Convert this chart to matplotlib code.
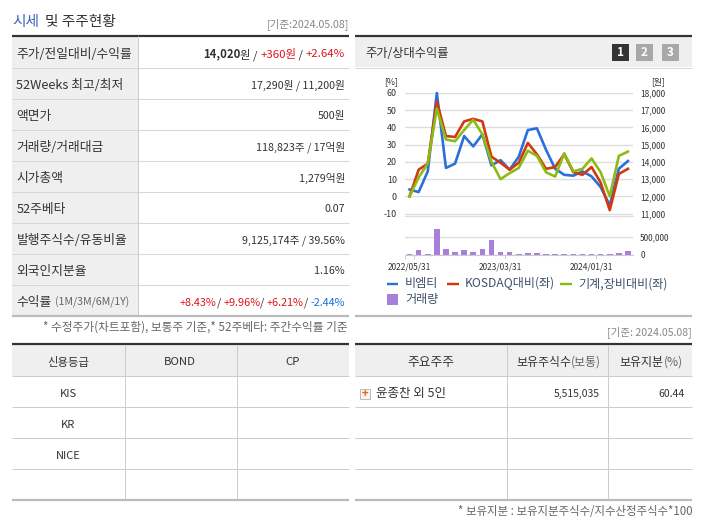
import numpy as np
from matplotlib import pyplot as plt
from matplotlib.patches import Rectangle

plt.rcParams['font.family'] = ['Noto Sans CJK KR', 'DejaVu Sans']
plt.rcParams['axes.unicode_minus'] = False

W, H = 702, 525

# chart data
months = ['2022/05/31', '2023/03/31', '2024/01/31']
month_pos = [0, 10, 20]
bmt = [4, 2.5, 14.5, 60, 16.5, 19, 35, 29, 36, 18, 21, 15.5, 23, 38.5,
       39.5, 27, 16, 12.5, 12, 14.5, 11.6, 5.4, -5.2, 16, 20.5]
kosdaq = [0, 15.5, 19, 55, 35, 34.5, 43.5, 45, 43.5, 23, 19.5, 15.5, 19.5, 31,
          24.4, 16, 17, 24.5, 14, 12.5, 17, 8, -8, 13, 16]
machine = [0, 11, 19, 51, 33, 32, 38.5, 44.5, 36, 20, 10, 13.5, 16.5, 26.5,
           23.5, 14, 11.5, 25, 14.5, 16, 22, 14, 0, 23.5, 26]
volume = [20000, 136000, 25000, 710000, 165000, 80000, 135000, 80000, 160000,
          410000, 80000, 75000, 30000, 45000, 55000, 25000, 25000, 25000,
          25000, 25000, 15000, 15000, 25000, 50000, 120000]
pct_ticks = [-10, 0, 10, 20, 30, 40, 50, 60]
won_ticks = [11000, 12000, 13000, 14000, 15000, 16000, 17000, 18000]
vol_ticks = [0, 500000]

# table data
info_labels = ['주가/전일대비/수익률', '52Weeks 최고/최저', '액면가', '거래량/거래대금', '시가총액',
               '52주베타', '발행주식수/유동비율', '외국인지분율', '수익률']
info_values = ['', '17,290원 / 11,200원', '500원', '118,823주 / 17억원', '1,279억원',
               '0.07', '9,125,174주 / 39.56%', '1.16%', '']
rating_head = ['신용등급', 'BOND', 'CP']
rating_rows = ['KIS', 'KR', 'NICE']
holder_head = ['주요주주', '보유주식수', '보유지분']
holder_name = '윤종찬 외 5인'
holder_shares = '5,515,035'
holder_ratio = '60.44'

BLUE = '#2a6fdb'
RED = '#d2390f'
GREEN = '#8dbb12'
PURPLE = '#a97fdc'
TXT = '#333333'
LINE = '#cccccc'
FILL = '#efefef'
TEXT_SHIFT = 1.3


def make_axes(fig, left, top, right, bottom):
    return fig.add_axes([left / W, 1 - bottom / H, (right - left) / W, (bottom - top) / H])


def hline(ax, y, x0, x1, color=LINE, lw=1.0):
    ax.plot([x0, x1], [y, y], color=color, lw=lw * 0.72, solid_capstyle='butt')


def vline(ax, x, y0, y1, color=LINE, lw=1.0):
    ax.plot([x, x], [y0, y1], color=color, lw=lw * 0.72, solid_capstyle='butt')


def put(ax, x, y, s, size, color=TXT, ha='left', weight='normal'):
    # the CJK font sits a bit high with va=center
    return ax.text(x, y + TEXT_SHIFT, s, fontsize=size, color=color, ha=ha, va='center', fontweight=weight)


def right_text(ax, fig, x, y, parts, size=7.7):
    # draws the pieces right to left so several colours can share a line
    renderer = fig.canvas.get_renderer()
    for s, color, weight in reversed(parts):
        t = put(ax, x, y, s, size, color, 'right', weight)
        x -= t.get_window_extent(renderer).width


fig = plt.figure(figsize=(W / 100, H / 100), dpi=100)
bg = fig.add_axes([0, 0, 1, 1])
bg.set_xlim(0, W)
bg.set_ylim(H, 0)
bg.axis('off')

# title
put(bg, 12, 21, '시세', 10.6, '#3c62b4', weight='medium')
put(bg, 45, 21, '및 주주현황', 10.6, TXT, weight='medium')
put(bg, 349, 23, '[기준:2024.05.08]', 7.6, '#888888', 'right')

# left top table
seps = [67.5, 98.5, 129.5, 160.5, 191.5, 222.5, 253.5, 284.5]
bg.add_patch(Rectangle((12, 36), 125.5, 279, color=FILL, lw=0))
hline(bg, 35.5, 12, 349, '#333333', 2.2)
for y in seps:
    hline(bg, y, 12, 349, '#d6d6d6')
vline(bg, 137.5, 36, 315)
hline(bg, 315.5, 12, 349, '#bbbbbb', 2.2)
for i, label in enumerate(info_labels):
    y = 53 + 31 * i
    put(bg, 16.5, y, label, 9.2)
    if info_values[i]:
        right_text(bg, fig, 345, y, [(info_values[i], TXT, 'normal')])
put(bg, 55, 301, '(1M/3M/6M/1Y)', 7.6, '#666666')
right_text(bg, fig, 345, 53, [('14,020', TXT, 'bold'), ('원 / ', TXT, 'normal'), ('+360원', '#e0141e', 'normal'),
                              (' / ', TXT, 'normal'), ('+2.64%', '#e0141e', 'normal')], size=8.2)
right_text(bg, fig, 345, 301.5, [('+8.43%', '#e0141e', 'normal'), ('/ ', TXT, 'normal'),
                                 ('+9.96%', '#e0141e', 'normal'), ('/ ', TXT, 'normal'),
                                 ('+6.21%', '#e0141e', 'normal'), ('/ ', TXT, 'normal'),
                                 ('-2.44%', '#1a6fe0', 'normal')], size=7.8)
put(bg, 348, 326, '* 수정주가(차트포함), 보통주 기준,* 52주베타: 주간수익률 기준', 8.4, '#666666', 'right')

# credit rating table
bg.add_patch(Rectangle((12, 345), 337, 30.5, color=FILL, lw=0))
hline(bg, 344, 12, 349, '#333333', 2.2)
for y in [375.5, 406.5, 437.5, 468.5]:
    hline(bg, y, 12, 349)
hline(bg, 500, 12, 349, '#bbbbbb', 2.2)
for x in [124.5, 236.5]:
    vline(bg, x, 345, 499)
for x, s in zip([68, 180, 292.5], rating_head):
    put(bg, x, 361, s, 8.2, ha='center')
for i, s in enumerate(rating_rows):
    put(bg, 68, 392.5 + 31 * i, s, 8, ha='center')

# shareholder table
bg.add_patch(Rectangle((355, 345), 337, 30.5, color=FILL, lw=0))
hline(bg, 344, 355, 692, '#333333', 2.2)
for y in [375.5, 406.5, 437.5, 468.5]:
    hline(bg, y, 355, 692)
hline(bg, 500, 355, 692, '#bbbbbb', 2.2)
for x in [506.5, 607.5]:
    vline(bg, x, 345, 499)
put(bg, 431, 361, holder_head[0], 9.2, ha='center')
right_text(bg, fig, 601, 361, [(holder_head[1], TXT, 'normal'), ('(보통)', '#666666', 'normal')], size=8.6)
right_text(bg, fig, 683, 361, [(holder_head[2], TXT, 'normal'), ('(%)', '#666666', 'normal')], size=8.6)
bg.add_patch(Rectangle((359.5, 388.5), 10, 10, facecolor='#f4f4f4', edgecolor='#bbbbbb', lw=0.7))
bg.text(364.5, 393.5, '+', fontsize=8, color='#f0640a', ha='center', va='center', fontweight='bold')
put(bg, 375.5, 392.5, holder_name, 9)
right_text(bg, fig, 600, 393, [(holder_shares, TXT, 'normal')], size=7.5)
right_text(bg, fig, 685, 393, [(holder_ratio, TXT, 'normal')], size=7.5)
put(bg, 692, 331, '[기준: 2024.05.08]', 7.6, '#888888', 'right')
put(bg, 692, 510, '* 보유지분 : 보유지분주식수/지수산정주식수*100', 8.25, '#666666', 'right')

# chart panel
bg.add_patch(Rectangle((355, 36.5), 337, 30.5, color=FILL, lw=0))
hline(bg, 35.5, 355, 692, '#333333', 2.2)
hline(bg, 67.5, 355, 692, '#d6d6d6')
hline(bg, 315.5, 355, 692, '#bbbbbb', 2.2)
put(bg, 365, 52, '주가/상대수익률', 8.8)
for x, s, c in [(612, '1', '#333333'), (636, '2', '#a8a8a8'), (662, '3', '#a8a8a8')]:
    bg.add_patch(Rectangle((x, 43.5), 17, 17, color=c, lw=0))
    bg.text(x + 8.5, 52, s, fontsize=8.5, color='white', ha='center', va='center', fontweight='bold')
put(bg, 391, 80, '[%]', 6.3, ha='center')
put(bg, 658, 80, '[원]', 6.3, ha='center')

# line chart
x = np.arange(len(bmt))
ax = make_axes(fig, 405, 93, 632.5, 216)
ax.patch.set_alpha(0)
ax.set_xlim(-0.5, len(x) - 0.5)
ax.set_ylim(-11.4, 60)
ax.set_yticks(pct_ticks)
ax.grid(axis='y', color='#dddddd', lw=1.0)
ax.set_axisbelow(True)
for s in ['top', 'left', 'right']:
    ax.spines[s].set_visible(False)
ax.spines['bottom'].set_color('#dddddd')
ax.set_xticks([])
ax.tick_params(axis='y', length=0, pad=5.8, labelsize=6.4, labelcolor=TXT)
ax.plot(x, bmt, color=BLUE, lw=1.9, clip_on=False)
ax.plot(x, kosdaq, color=RED, lw=1.9, clip_on=False)
ax.plot(x, machine, color=GREEN, lw=1.9, clip_on=False)

ax2 = ax.twinx()
ax2.set_ylim(10860, 18000)
ax2.set_yticks(won_ticks)
ax2.set_yticklabels(['{:,}'.format(v) for v in won_ticks])
ax2.tick_params(axis='y', length=0, pad=5.6, labelsize=6.0, labelcolor=TXT)
for s in ax2.spines.values():
    s.set_visible(False)

# volume chart
ax3 = make_axes(fig, 405, 225.7, 632.5, 255)
ax3.patch.set_alpha(0)
ax3.set_xlim(-0.5, len(x) - 0.5)
ax3.set_ylim(0, 800000)
ax3.set_yticks(vol_ticks)
ax3.grid(axis='y', color='#dddddd', lw=1.0)
ax3.set_axisbelow(True)
for s in ['top', 'left', 'right']:
    ax3.spines[s].set_visible(False)
ax3.spines['bottom'].set_color('#cccccc')
ax3.bar(x, volume, width=0.62, color=PURPLE)
ax3.set_xticks(month_pos)
ax3.set_xticklabels(months)
ax3.set_xticks([-0.5, 0.5, 10.5, 20.5], minor=True)
ax3.tick_params(axis='x', which='major', length=0, pad=5.5, labelsize=6.0, labelcolor=TXT)
ax3.tick_params(axis='x', which='minor', length=3.2, width=0.7, color='#cccccc')
ax3.tick_params(axis='y', length=0, pad=0, labelleft=False)
ax4 = ax3.twinx()
ax4.set_ylim(0, 800000)
ax4.set_yticks(vol_ticks)
ax4.set_yticklabels(['{:,}'.format(v) for v in vol_ticks])
ax4.tick_params(axis='y', length=0, pad=5.6, labelsize=6.0, labelcolor=TXT)
for s in ax4.spines.values():
    s.set_visible(False)

# legend
for x0, x1, c, tx, s in [(387, 398, BLUE, 405, '비엠티'), (447, 459, RED, 465, 'KOSDAQ대비(좌)'),
                         (560, 572, GREEN, 578, '기계,장비대비(좌)')]:
    hline(bg, 283.5, x0, x1, c, 2.4)
    put(bg, tx, 282.5, s, 8.7, '#3f4f6b')
bg.add_patch(Rectangle((387, 293.5), 11, 11, color=PURPLE, lw=0))
put(bg, 405, 298.5, '거래량', 8.7, '#3f4f6b')

bg.set_xlim(0, W)
bg.set_ylim(H, 0)
fig.savefig('out.png', dpi=100)
plt.close()
